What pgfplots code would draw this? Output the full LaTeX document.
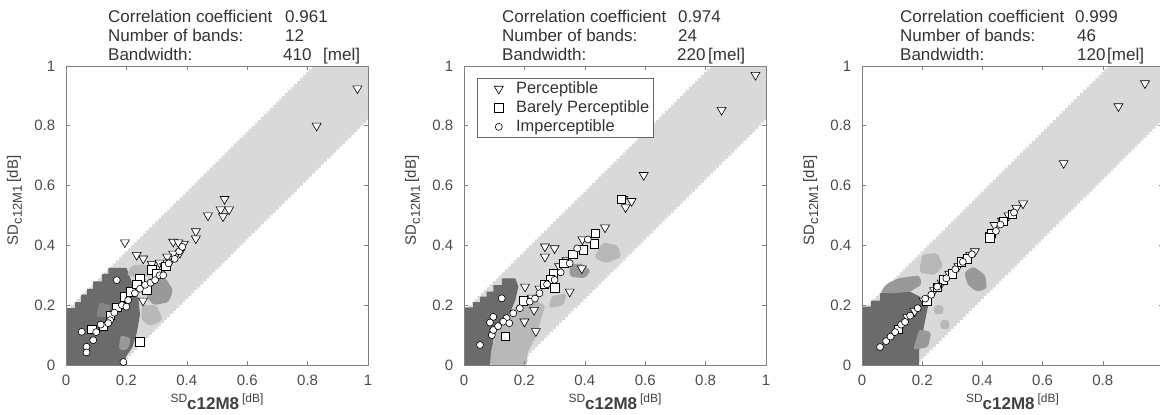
\documentclass[border=0pt]{standalone}
\usepackage{fontspec}
\setmainfont{Liberation Sans}
\usepackage{pgfplots}
\usepackage{pgfplotstable}
\pgfplotsset{compat=1.18}

\definecolor{bandgray}{gray}{0.85}
\definecolor{darkzone}{gray}{0.42}
\definecolor{deepmid}{gray}{0.52}
\definecolor{midzone}{gray}{0.6}
\definecolor{softzone}{gray}{0.72}

% staircase edges of the |y - x| band (grid step 0.01)
\pgfplotstableread{
x up lo
0.00 0.18 0.00
0.01 0.19 0.00
0.02 0.20 0.00
0.03 0.21 0.00
0.04 0.22 0.00
0.05 0.23 0.00
0.06 0.24 0.00
0.07 0.25 0.00
0.08 0.26 0.00
0.09 0.27 0.00
0.10 0.28 0.00
0.11 0.29 0.00
0.12 0.30 0.00
0.13 0.31 0.00
0.14 0.32 0.00
0.15 0.33 0.00
0.16 0.34 0.00
0.17 0.35 0.00
0.18 0.36 0.00
0.19 0.37 0.01
0.20 0.38 0.02
0.21 0.39 0.03
0.22 0.40 0.04
0.23 0.41 0.05
0.24 0.42 0.06
0.25 0.43 0.07
0.26 0.44 0.08
0.27 0.45 0.09
0.28 0.46 0.10
0.29 0.47 0.11
0.30 0.48 0.12
0.31 0.49 0.13
0.32 0.50 0.14
0.33 0.51 0.15
0.34 0.52 0.16
0.35 0.53 0.17
0.36 0.54 0.18
0.37 0.55 0.19
0.38 0.56 0.20
0.39 0.57 0.21
0.40 0.58 0.22
0.41 0.59 0.23
0.42 0.60 0.24
0.43 0.61 0.25
0.44 0.62 0.26
0.45 0.63 0.27
0.46 0.64 0.28
0.47 0.65 0.29
0.48 0.66 0.30
0.49 0.67 0.31
0.50 0.68 0.32
0.51 0.69 0.33
0.52 0.70 0.34
0.53 0.71 0.35
0.54 0.72 0.36
0.55 0.73 0.37
0.56 0.74 0.38
0.57 0.75 0.39
0.58 0.76 0.40
0.59 0.77 0.41
0.60 0.78 0.42
0.61 0.79 0.43
0.62 0.80 0.44
0.63 0.81 0.45
0.64 0.82 0.46
0.65 0.83 0.47
0.66 0.84 0.48
0.67 0.85 0.49
0.68 0.86 0.50
0.69 0.87 0.51
0.70 0.88 0.52
0.71 0.89 0.53
0.72 0.90 0.54
0.73 0.91 0.55
0.74 0.92 0.56
0.75 0.93 0.57
0.76 0.94 0.58
0.77 0.95 0.59
0.78 0.96 0.60
0.79 0.97 0.61
0.80 0.98 0.62
0.81 0.99 0.63
0.82 1.00 0.64
0.83 1.00 0.65
0.84 1.00 0.66
0.85 1.00 0.67
0.86 1.00 0.68
0.87 1.00 0.69
0.88 1.00 0.70
0.89 1.00 0.71
0.90 1.00 0.72
0.91 1.00 0.73
0.92 1.00 0.74
0.93 1.00 0.75
0.94 1.00 0.76
0.95 1.00 0.77
0.96 1.00 0.78
0.97 1.00 0.79
0.98 1.00 0.80
0.99 1.00 0.81
1.00 1.00 0.82
}\bandtab

% ---- 12 bands ----
\pgfplotstableread{
x y
0.965 0.925
0.830 0.800
0.525 0.555
0.512 0.520
0.540 0.520
0.520 0.497
0.470 0.500
0.430 0.447
0.430 0.423
0.390 0.405
0.355 0.412
0.372 0.410
0.377 0.375
0.355 0.372
0.335 0.362
0.195 0.410
0.234 0.368
0.256 0.356
0.284 0.338
0.310 0.342
0.325 0.330
0.255 0.215
0.345 0.345
}\pAp
\pgfplotstableread{
x y
0.245 0.078
0.085 0.120
0.124 0.130
0.146 0.167
0.168 0.192
0.195 0.228
0.215 0.245
0.245 0.290
0.267 0.252
0.284 0.318
0.300 0.306
0.235 0.270
0.330 0.330
}\pAb
\pgfplotstableread{
x y
0.052 0.111
0.068 0.061
0.068 0.042
0.090 0.083
0.100 0.110
0.115 0.135
0.146 0.150
0.160 0.175
0.168 0.284
0.185 0.200
0.206 0.217
0.228 0.240
0.245 0.255
0.262 0.268
0.280 0.275
0.295 0.284
0.310 0.300
0.322 0.300
0.340 0.340
0.360 0.355
0.375 0.380
0.385 0.395
0.190 0.010
0.200 0.195
0.140 0.140
}\pAi

% ---- 24 bands ----
\pgfplotstableread{
x y
0.965 0.970
0.853 0.853
0.595 0.635
0.527 0.555
0.555 0.548
0.535 0.527
0.467 0.460
0.268 0.396
0.300 0.390
0.268 0.362
0.390 0.323
0.350 0.245
0.202 0.262
0.232 0.184
0.200 0.145
0.238 0.113
0.392 0.420
0.340 0.350
0.315 0.330
0.250 0.255
0.225 0.225
}\pBp
\pgfplotstableread{
x y
0.136 0.095
0.432 0.405
0.434 0.440
0.520 0.555
0.296 0.306
0.285 0.285
0.300 0.258
0.196 0.215
0.395 0.385
0.360 0.370
0.330 0.340
0.265 0.270
}\pBb
\pgfplotstableread{
x y
0.053 0.067
0.125 0.223
0.097 0.161
0.086 0.142
0.092 0.100
0.097 0.117
0.113 0.130
0.141 0.157
0.163 0.173
0.185 0.190
0.218 0.212
0.235 0.222
0.250 0.240
0.275 0.270
0.300 0.285
0.320 0.310
0.350 0.340
0.375 0.390
0.410 0.420
0.130 0.145
0.150 0.140
}\pBi

% ---- 46 bands ----
\pgfplotstableread{
x y
0.940 0.942
0.852 0.865
0.670 0.675
0.535 0.540
0.513 0.525
0.487 0.500
0.465 0.482
0.440 0.468
0.425 0.435
0.375 0.380
0.360 0.368
0.340 0.350
0.320 0.330
0.290 0.305
0.265 0.275
0.240 0.250
0.205 0.215
0.175 0.180
0.150 0.160
}\pCp
\pgfplotstableread{
x y
0.500 0.505
0.430 0.440
0.470 0.480
0.425 0.425
0.215 0.215
0.120 0.120
0.270 0.285
0.300 0.305
0.330 0.345
0.250 0.260
0.350 0.355
}\pCb
\pgfplotstableread{
x y
0.060 0.060
0.080 0.080
0.095 0.095
0.110 0.110
0.130 0.135
0.143 0.144
0.160 0.165
0.185 0.190
0.210 0.222
0.230 0.235
0.250 0.262
0.280 0.290
0.310 0.320
0.335 0.345
0.365 0.370
0.445 0.448
0.460 0.470
0.505 0.510
}\pCi

\pgfplotsset{
  panel/.style={
    scale only axis, width=302pt, height=299pt, anchor=south west,
    xmin=0, xmax=1, ymin=0, ymax=1,
    xtick={0,0.2,0.4,0.6,0.8,1}, ytick={0,0.2,0.4,0.6,0.8,1},
    tick align=inside, major tick length=4pt,
    tick style={black!50, line width=0.6pt},
    axis line style={black!50, line width=0.9pt},
    axis on top,
    /pgf/number format/assume math mode=true,
    tick label style={font=\fontsize{15}{15}\selectfont, text=black!70},
    xticklabel style={anchor=base, yshift=-21pt, inner sep=0pt},
    yticklabel style={anchor=east, xshift=-10.5pt, inner sep=0pt},
    xlabel={{\fontsize{12}{12}\selectfont SD}\raisebox{-7pt}{\fontsize{17}{17}\selectfont\bfseries c12M8}\hspace{3pt}{\fontsize{12}{12}\selectfont [dB]}},
    ylabel={\fontsize{15}{15}\selectfont SD\raisebox{-4pt}{\fontsize{13}{13}\selectfont c12M1}\hspace{3pt}[dB]},
    xlabel style={at={(axis description cs:0.5,-0.127)}, anchor=base, inner sep=0pt, text=black!75},
    ylabel style={at={(axis description cs:-0.159,0.55)}, anchor=base, inner sep=0pt, text=black!75},
  },
  bg/.style={forget plot, draw=none, fill=#1},
  blob/.style={forget plot, draw=none, fill=#1, rounded corners=3pt},
  mkP/.style={only marks, mark=triangle*, mark size=5.2pt,
    mark options={rotate=180, draw=black, fill=white, line width=0.6pt}},
  mkB/.style={only marks, mark=square*, mark size=4.2pt,
    mark options={draw=black, fill=white, line width=0.6pt}},
  mkI/.style={only marks, mark=*, mark size=3.5pt,
    mark options={draw=black, fill=white, line width=0.6pt}},
  legmark/.style={legend image code/.code={%
    \draw[##1] plot coordinates {(17pt,0pt)};
    \path (0pt,0pt) (26pt,0pt);}},
}

\newcommand{\band}{%
  \addplot[bg=bandgray, const plot mark mid] table[x=x, y=up] {\bandtab} \closedcycle;
  \addplot[bg=white, const plot mark mid] table[x=x, y=lo] {\bandtab} \closedcycle;
}

\tikzset{hd/.style={anchor=base west, inner sep=0pt, font=\fontsize{17}{17}\selectfont, text=black!80}}

\begin{document}
\begin{tikzpicture}
\useasboundingbox (0,0) rectangle (1160pt,415pt);

% ===== 12 bands =====
\begin{axis}[panel, at={(66pt,50pt)}]
\band
\addplot[bg=darkzone] coordinates {(0,0) (0,0.19) (0.03,0.19) (0.03,0.21) (0.05,0.21) (0.05,0.235)
  (0.07,0.235) (0.07,0.255) (0.09,0.255) (0.09,0.28) (0.12,0.28) (0.12,0.305) (0.14,0.305)
  (0.14,0.325) (0.2,0.325) (0.21,0.30) (0.22,0.27) (0.24,0.22) (0.245,0.17) (0.235,0.11)
  (0.22,0.06) (0.2,0.03) (0.19,0)} -- cycle;
\addplot[blob=softzone] coordinates {(0.2,0.30) (0.22,0.335) (0.27,0.335) (0.3,0.315) (0.25,0.29)} -- cycle;
\addplot[blob=midzone] coordinates {(0.27,0.29) (0.33,0.29) (0.355,0.25) (0.34,0.21) (0.29,0.2) (0.265,0.23)} -- cycle;
\addplot[blob=softzone] coordinates {(0.25,0.2) (0.3,0.2) (0.32,0.15) (0.28,0.13) (0.25,0.15)} -- cycle;
\addplot[blob=deepmid] coordinates {(0.1,0.16) (0.14,0.16) (0.15,0.2) (0.11,0.21)} -- cycle;
\addplot[blob=midzone] coordinates {(0.175,0.05) (0.205,0.05) (0.215,0.09) (0.18,0.1)} -- cycle;
\addplot[mkP, forget plot] table {\pAp};
\addplot[mkB, forget plot] table {\pAb};
\addplot[mkI, forget plot] table {\pAi};
\end{axis}

% ===== 24 bands =====
\begin{axis}[panel, at={(464pt,50pt)},
  legend style={at={(0.043,0.96)}, anchor=north west, draw=black!60, fill=white,
    line width=0.8pt, inner xsep=4pt, inner ysep=2.75pt, column sep=8pt, row sep=3.5pt,
    font=\fontsize{16.4}{16.4}\selectfont, text=black!80,
    nodes={inner sep=0pt, text height=12pt, text depth=3.5pt}},
  legend cell align=left]
\band
\addplot[bg=darkzone] coordinates {(0,0) (0,0.193) (0.03,0.193) (0.03,0.21) (0.053,0.21) (0.053,0.229)
  (0.075,0.229) (0.075,0.245) (0.097,0.245) (0.097,0.267) (0.125,0.267) (0.125,0.29) (0.17,0.29)
  (0.18,0.262) (0.17,0.217) (0.152,0.173) (0.114,0.128) (0.097,0.084) (0.092,0.04) (0.086,0)} -- cycle;
\addplot[blob=softzone] coordinates {(0.086,0) (0.21,0) (0.21,0.04) (0.24,0.1) (0.26,0.17) (0.27,0.2)
  (0.22,0.22) (0.17,0.2) (0.15,0.15) (0.11,0.12) (0.09,0.05)} -- cycle;
\addplot[blob=midzone] coordinates {(0.35,0.295) (0.40,0.29) (0.42,0.315) (0.39,0.34) (0.35,0.335)} -- cycle;
\addplot[blob=softzone] coordinates {(0.43,0.36) (0.47,0.34) (0.52,0.36) (0.51,0.40) (0.46,0.41)} -- cycle;
\addplot[blob=softzone] coordinates {(0.28,0.19) (0.33,0.2) (0.34,0.24) (0.29,0.23)} -- cycle;
\addplot[mkP, forget plot] table {\pBp};
\addplot[mkB, forget plot] table {\pBb};
\addplot[mkI, forget plot] table {\pBi};
\addlegendimage{mkP, legmark}\addlegendentry{Perceptible}
\addlegendimage{mkB, legmark}\addlegendentry{Barely Perceptible}
\addlegendimage{mkI, legmark}\addlegendentry{Imperceptible}
\end{axis}

% ===== 46 bands =====
\begin{axis}[panel, at={(862pt,50pt)}, width=301pt]
\band
\addplot[bg=darkzone] coordinates {(0,0) (0,0.195) (0.03,0.195) (0.03,0.215) (0.06,0.215) (0.06,0.24)
  (0.09,0.24) (0.09,0.26) (0.12,0.26) (0.15,0.25) (0.19,0.23) (0.22,0.2) (0.21,0.15) (0.2,0.1)
  (0.19,0.05) (0.19,0)} -- cycle;
\addplot[blob=midzone] coordinates {(0.06,0.24) (0.1,0.24) (0.16,0.245) (0.2,0.27) (0.19,0.3) (0.12,0.29) (0.08,0.27)} -- cycle;
\addplot[blob=softzone] coordinates {(0.19,0.31) (0.24,0.30) (0.27,0.33) (0.25,0.375) (0.2,0.37)} -- cycle;
\addplot[blob=midzone] coordinates {(0.35,0.27) (0.38,0.245) (0.415,0.255) (0.41,0.30) (0.37,0.33) (0.34,0.31)} -- cycle;
\addplot[blob=softzone] coordinates {(0.24,0.17) (0.27,0.17) (0.27,0.2) (0.24,0.2)} -- cycle;
\addplot[blob=softzone] coordinates {(0.26,0.12) (0.29,0.12) (0.29,0.15) (0.26,0.15)} -- cycle;
\addplot[blob=midzone] coordinates {(0.17,0.05) (0.22,0.06) (0.23,0.11) (0.19,0.12)} -- cycle;
\addplot[mkP, forget plot] table {\pCp};
\addplot[mkB, forget plot] table {\pCb};
\addplot[mkI, forget plot] table {\pCi};
\end{axis}

% ===== headings =====
\node[hd] at (108pt,392pt) {Correlation coefficient};
\node[hd] at (285pt,392pt) {0.961};
\node[hd] at (108pt,373pt) {Number of bands:};
\node[hd] at (285pt,373pt) {12};
\node[hd] at (108pt,354pt) {Bandwidth:};
\node[hd] at (283pt,354pt) {410};
\node[hd] at (323pt,354pt) {[mel]};

\node[hd] at (502pt,392pt) {Correlation coefficient};
\node[hd] at (678pt,392pt) {0.974};
\node[hd] at (502pt,373pt) {Number of bands:};
\node[hd] at (678pt,373pt) {24};
\node[hd] at (502pt,354pt) {Bandwidth:};
\node[hd] at (677pt,354pt) {220};
\node[hd] at (708pt,354pt) {[mel]};

\node[hd] at (900pt,392pt) {Correlation coefficient};
\node[hd] at (1075pt,392pt) {0.999};
\node[hd] at (900pt,373pt) {Number of bands:};
\node[hd] at (1077pt,373pt) {46};
\node[hd] at (900pt,354pt) {Bandwidth:};
\node[hd] at (1077pt,354pt) {120};
\node[hd] at (1107pt,354pt) {[mel]};
\end{tikzpicture}
\end{document}
